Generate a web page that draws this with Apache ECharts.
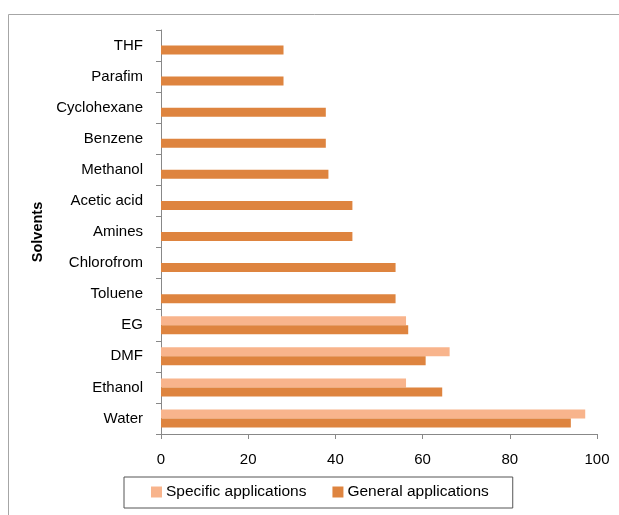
<!DOCTYPE html>
<html>
<head>
<meta charset="utf-8">
<script src="https://cdn.jsdelivr.net/npm/echarts@6/dist/echarts.min.js"></script>
<style>
  html, body { margin: 0; padding: 0; background: #fff; }
  #chart { width: 619px; height: 515px; }
</style>
</head>
<body>
<div id="chart"></div>
<script>
// bottom to top, as drawn
const solvents = ['Water', 'Ethanol', 'DMF', 'EG', 'Toluene', 'Chlorofrom', 'Amines',
  'Acetic acid', 'Methanol', 'Benzene', 'Cyclohexane', 'Parafim', 'THF']
const specificApps = [97.3, 56.2, 66.2, 56.2, null, null, null, null, null, null, null, null, null]
const generalApps = [94, 64.5, 60.7, 56.7, 53.8, 53.8, 43.9, 43.9, 38.4, 37.8, 37.8, 28.1, 28.1]
const xTicks = { min: 0, max: 100, interval: 20 }

const axisGray = '#888888'
const font = 'Liberation Sans, Arial, sans-serif'

const chart = echarts.init(document.getElementById('chart'), null, { renderer: 'canvas' })

chart.setOption({
  backgroundColor: '#fff',
  animation: false,
  graphic: [{
    type: 'rect',
    shape: { x: 8.5, y: 14.5, width: 700, height: 600 },
    style: { fill: 'none', stroke: '#a6a6a6', lineWidth: 1 },
    silent: true
  }],
  legend: {
    data: ['Specific applications', 'General applications'],
    top: 477,
    left: 124,
    itemWidth: 11,
    itemHeight: 11,
    itemGap: 26,
    icon: 'rect',
    padding: [7, 24, 8, 27],
    borderColor: '#555',
    borderWidth: 1,
    textStyle: { fontFamily: font, fontSize: 15.5, color: '#000', padding: [0, 0, 0, -1] }
  },
  grid: { left: 161, right: 22, top: 30, bottom: 81 },
  xAxis: {
    type: 'value',
    min: xTicks.min,
    max: xTicks.max,
    interval: xTicks.interval,
    axisLine: { show: true, lineStyle: { color: axisGray } },
    axisTick: { show: true, length: 5, lineStyle: { color: axisGray } },
    axisLabel: { fontFamily: font, fontSize: 15, color: '#000', margin: 18 },
    splitLine: { show: false }
  },
  yAxis: {
    type: 'category',
    data: solvents,
    name: 'Solvents',
    nameLocation: 'middle',
    nameGap: 112,
    nameRotate: 90,
    nameTextStyle: { fontFamily: font, fontSize: 14.5, fontWeight: 'bold', color: '#000' },
    axisLine: { show: true, lineStyle: { color: axisGray } },
    axisTick: { show: true, length: 5, lineStyle: { color: axisGray } },
    axisLabel: { fontFamily: font, fontSize: 15, color: '#000', margin: 18 }
  },
  series: [
    {
      name: 'Specific applications',
      type: 'bar',
      data: specificApps,
      barWidth: 9,
      barGap: '0%',
      itemStyle: { color: '#f8b48c' }
    },
    {
      name: 'General applications',
      type: 'bar',
      data: generalApps,
      barWidth: 9,
      barGap: '0%',
      itemStyle: { color: '#de843f' }
    }
  ]
})
</script>
</body>
</html>
